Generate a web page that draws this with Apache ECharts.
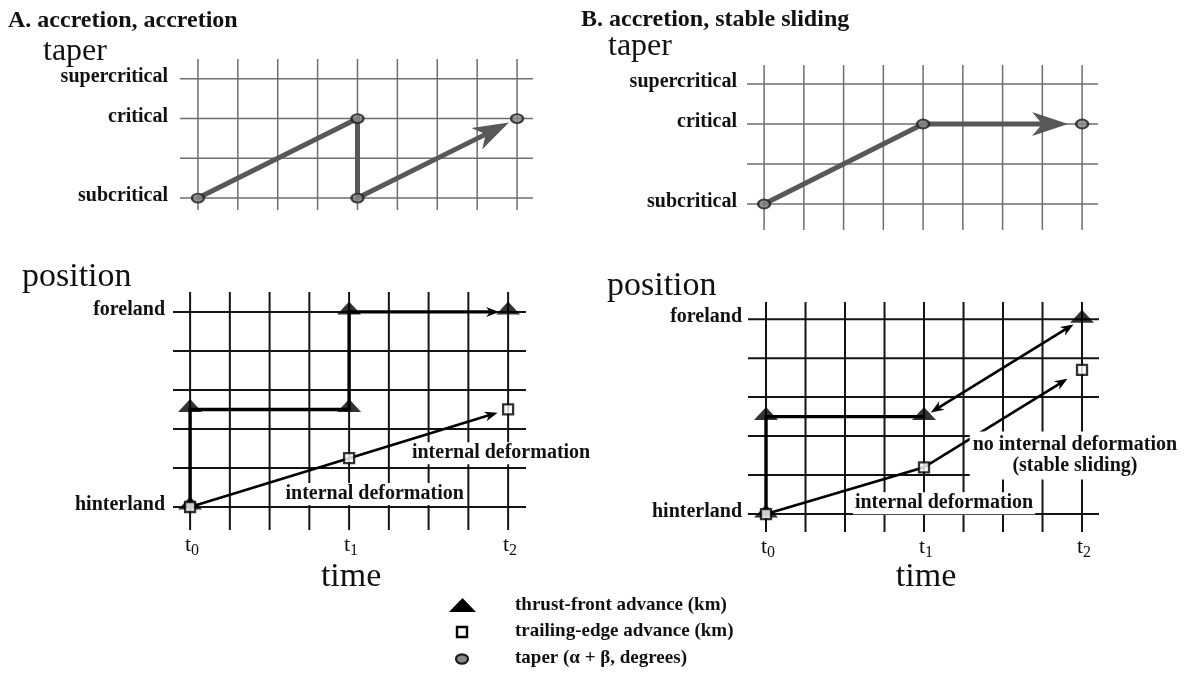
<!DOCTYPE html>
<html><head><meta charset="utf-8">
<script src="https://cdn.jsdelivr.net/npm/echarts@6/dist/echarts.min.js"></script>
<style>html,body{margin:0;padding:0;background:#fff}#c{width:1186px;height:680px}</style>
</head><body><div id="c"></div>
<script>
// ---------------- data ----------------
const panelTitles = ['A. accretion, accretion', 'B. accretion, stable sliding'];
const axisTitles = { taper: 'taper', position: 'position', time: 'time' };
const timeGridValues = [0, 1, 2, 3, 4, 5, 6, 7, 8];
const timeTickValues = [0, 4, 8];
const timeTickSubs = ['0', '1', '2'];
const taperGridValues = [0, 1, 2, 3];
const taperLabelValues = [0, 2, 3];
const taperLabels = ['subcritical', 'critical', 'supercritical'];
const positionGridValues = [0, 1, 2, 3, 4, 5];
const positionLabelValues = [0, 5];
const positionLabels = ['hinterland', 'foreland'];

// panel A (accretion, accretion)
const taperPathA = [[0, 0], [4, 2], [4, 0], [8, 2]];
const taperPointsA = [[0, 0], [4, 2], [4, 0], [8, 2]];
const thrustPathA = [[0, 0], [0, 2.5], [4, 2.5], [4, 5], [8, 5]];
const thrustPointsA = [[0, 0], [0, 2.5], [4, 2.5], [4, 5], [8, 5]];
const trailingPathA = [[0, 0], [4, 1.25], [8, 2.5]];
const trailingPointsA = [[0, 0], [4, 1.25], [8, 2.5]];

// panel B (accretion, stable sliding)
const taperPathB = [[0, 0], [4, 2], [8, 2]];
const taperPointsB = [[0, 0], [4, 2], [8, 2]];
const thrustPathB1 = [[0, 0], [0, 2.5], [4, 2.5]];
const thrustPathB2 = [[4, 2.5], [8, 5]];
const thrustPointsB = [[0, 0], [0, 2.5], [4, 2.5], [8, 5]];
const trailingPathB = [[0, 0], [4, 1.2], [8, 3.7]];
const trailingPointsB = [[0, 0], [4, 1.2], [8, 3.7]];

const annotationTexts = ['internal deformation', 'no internal deformation\n(stable sliding)'];
const legendLabels = ['thrust-front advance (km)', 'trailing-edge advance (km)', 'taper (α + β, degrees)'];

// ---------------- layout / styles ----------------
const SERIF = '"Liberation Serif", "Times New Roman", serif';
const INK = '#111';
const panels = [
  { left: 180, top: 59, width: 353, height: 151, xMin: -0.45, xMax: 8.4, yMin: -0.3, yMax: 3.5 },
  { left: 747, top: 65, width: 351, height: 165, xMin: -0.43, xMax: 8.4, yMin: -0.65, yMax: 3.475 },
  { left: 173, top: 292, width: 353, height: 238, xMin: -0.43, xMax: 8.45, yMin: -0.59, yMax: 5.51 },
  { left: 748, top: 302, width: 351, height: 230, xMin: -0.456, xMax: 8.43, yMin: -0.46, yMax: 5.44 }
];

function shorten(p, from, gap) {
  const dx = p[0] - from[0], dy = p[1] - from[1];
  const len = Math.hypot(dx, dy) || 1;
  return [p[0] - dx / len * gap, p[1] - dy / len * gap];
}
function arrowHead(tip, from, L, W, k) {
  const dx = tip[0] - from[0], dy = tip[1] - from[1];
  const len = Math.hypot(dx, dy) || 1;
  const ux = dx / len, uy = dy / len, nx = -uy, ny = ux;
  return [
    [tip[0], tip[1]],
    [tip[0] - ux * L + nx * W, tip[1] - uy * L + ny * W],
    [tip[0] - ux * L * k, tip[1] - uy * L * k],
    [tip[0] - ux * L - nx * W, tip[1] - uy * L - ny * W]
  ];
}

function gridSeries(i, xs, ys, color, width) {
  const p = panels[i];
  const data = xs.map(x => [x, p.yMin, x, p.yMax]).concat(ys.map(y => [p.xMin, y, p.xMax, y]));
  return {
    type: 'custom', xAxisIndex: i, yAxisIndex: i, data, silent: true, z: 1, clip: false,
    encode: { x: [0, 2], y: [1, 3] },
    renderItem(params, api) {
      const a = api.coord([api.value(0), api.value(1)]);
      const b = api.coord([api.value(2), api.value(3)]);
      return { type: 'line', shape: { x1: a[0], y1: a[1], x2: b[0], y2: b[1] },
        style: { stroke: color, lineWidth: width } };
    }
  };
}

function pathSeries(i, pts, st) {
  return {
    type: 'custom', xAxisIndex: i, yAxisIndex: i, data: [pts[0]], silent: true, z: st.z || 3, clip: false,
    renderItem(params, api) {
      const P = pts.map(q => api.coord(q));
      const n = P.length;
      const kids = [];
      const shaft = P.slice();
      if (st.endArrow) {
        P[n - 1] = shorten(P[n - 1], P[n - 2], st.endGap);
        shaft[n - 1] = shorten(P[n - 1], P[n - 2], st.L * st.k * 0.8);
        kids.push({ type: 'polygon', shape: { points: arrowHead(P[n - 1], P[n - 2], st.L, st.W, st.k) },
          style: { fill: st.color }, z2: 2 });
      }
      if (st.startArrow) {
        P[0] = shorten(P[0], P[1], st.startGap);
        shaft[0] = shorten(P[0], P[1], st.L * st.k * 0.8);
        kids.push({ type: 'polygon', shape: { points: arrowHead(P[0], P[1], st.L, st.W, st.k) },
          style: { fill: st.color }, z2: 2 });
      }
      kids.push({ type: 'polyline', shape: { points: shaft },
        style: { stroke: st.color, lineWidth: st.width, fill: null, lineJoin: 'miter', lineCap: st.cap || 'butt' }, z2: 1 });
      return { type: 'group', children: kids };
    }
  };
}

function markSeries(i, name, data, symbol, size, offset, style, z) {
  return { type: 'scatter', name, xAxisIndex: i, yAxisIndex: i, data, symbol, symbolSize: size,
    symbolOffset: offset, itemStyle: style, z, silent: true };
}

function textSeries(i, items) {
  return {
    type: 'custom', xAxisIndex: i, yAxisIndex: i, data: items.map(t => t.v), silent: true, z: 8, clip: false,
    renderItem(params, api) {
      const t = items[params.dataIndex];
      const c = api.coord([api.value(0), api.value(1)]);
      const style = { text: t.text, font: t.font, fill: INK,
        align: t.align || 'left', verticalAlign: 'middle',
        textAlign: t.align || 'left', textVerticalAlign: 'middle' };
      if (t.bg) { style.backgroundColor = t.bg; style.padding = t.pad || [1, 2]; }
      if (t.lh) style.lineHeight = t.lh;
      return { type: 'text', x: c[0] + (t.dx || 0), y: c[1] + (t.dy || 0), style };
    }
  };
}

const LABEL_FONT = 'bold 20px ' + SERIF;
function yLabelItems(i, values, labels, dx) {
  const p = panels[i];
  return values.map((v, k) => ({ v: [p.xMin, v], dx, dy: -2, text: labels[k], font: LABEL_FONT, align: 'right' }));
}
function timeLabelItems(i) {
  const p = panels[i];
  const items = [];
  timeTickValues.forEach((v, k) => {
    items.push({ v: [v, p.yMin], dx: 1, dy: 15, text: 't', font: '22px ' + SERIF, align: 'right' });
    items.push({ v: [v, p.yMin], dx: 1, dy: 21, text: timeTickSubs[k], font: '16px ' + SERIF, align: 'left' });
  });
  items.push({ v: [4, p.yMin], dx: 2, dy: 577 - (p.top + p.height), text: axisTitles.time, font: '34px ' + SERIF, align: 'center' });
  return items;
}

const taperStyle = { color: '#585858', width: 5, cap: 'round', L: 36, W: 12, k: 0.72, z: 3 };
const thrustStyle = { color: '#000', width: 3.4, L: 13, W: 5, k: 0.7, z: 3 };
const trailStyle = { color: '#000', width: 2.7, L: 13, W: 5, k: 0.7, z: 3 };

const triStyle = { color: '#000' };
const sqStyle = { color: '#fff', borderColor: '#000', borderWidth: 2.3 };
const circStyle = { color: '#8a8a8a', borderColor: '#1e1e1e', borderWidth: 2.2 };

const series = [
  gridSeries(0, timeGridValues, taperGridValues, '#6e6e6e', 1.5),
  gridSeries(1, timeGridValues, taperGridValues, '#6e6e6e', 1.5),
  gridSeries(2, timeGridValues, positionGridValues, '#141414', 2),
  gridSeries(3, timeGridValues, positionGridValues, '#141414', 2),

  pathSeries(0, taperPathA, Object.assign({}, taperStyle, { endArrow: true, endGap: 9 })),
  pathSeries(1, taperPathB, Object.assign({}, taperStyle, { endArrow: true, endGap: 14 })),
  pathSeries(2, thrustPathA, Object.assign({}, thrustStyle, { endArrow: true, endGap: 9 })),
  pathSeries(2, trailingPathA, Object.assign({}, trailStyle, { endArrow: true, endGap: 11 })),
  pathSeries(3, thrustPathB1, Object.assign({}, thrustStyle)),
  pathSeries(3, thrustPathB2, Object.assign({}, trailStyle, { endArrow: true, endGap: 10, startArrow: true, startGap: 8 })),
  pathSeries(3, trailingPathB, Object.assign({}, trailStyle, { endArrow: true, endGap: 17 })),

  markSeries(0, legendLabels[2], taperPointsA, 'circle', [12, 9], [0, 0], circStyle, 5),
  markSeries(1, legendLabels[2], taperPointsB, 'circle', [12, 9], [0, 0], circStyle, 5),
  markSeries(2, legendLabels[0], thrustPointsA, 'triangle', [24, 13], [0, -4], triStyle, 5),
  markSeries(3, legendLabels[0], thrustPointsB, 'triangle', [24, 13], [0, -3], triStyle, 5),
  markSeries(2, legendLabels[1], trailingPointsA, 'rect', [10, 10], [0, 0], sqStyle, 6),
  markSeries(3, legendLabels[1], trailingPointsB, 'rect', [10, 10], [0, 0], sqStyle, 6),

  textSeries(0, yLabelItems(0, taperLabelValues, taperLabels, -12)),
  textSeries(1, yLabelItems(1, taperLabelValues, taperLabels, -10)),
  textSeries(2, yLabelItems(2, positionLabelValues, positionLabels, -8).concat(timeLabelItems(2)).concat([
    { v: [2.35, 0.33], text: annotationTexts[0], font: LABEL_FONT, bg: '#fff', pad: [1, 2] },
    { v: [5.53, 1.38], text: annotationTexts[0], font: LABEL_FONT, bg: '#fff', pad: [1, 2] }
  ])),
  textSeries(3, yLabelItems(3, positionLabelValues, positionLabels, -6).concat(timeLabelItems(3)).concat([
    { v: [2.2, 0.28], text: annotationTexts[0], font: LABEL_FONT, bg: '#fff', pad: [1, 2] },
    { v: [7.82, 1.5], text: annotationTexts[1], font: LABEL_FONT, align: 'center', lh: 21, bg: '#fff', pad: [3, 3] }
  ]))
];

const legendRowsY = [606, 632, 659];
const graphic = [
  { type: 'text', x: 8, y: 21, style: { text: panelTitles[0], font: 'bold 24px ' + SERIF, fill: INK, textVerticalAlign: 'middle', verticalAlign: 'middle' } },
  { type: 'text', x: 581, y: 20, style: { text: panelTitles[1], font: 'bold 24px ' + SERIF, fill: INK, textVerticalAlign: 'middle', verticalAlign: 'middle' } },
  { type: 'text', x: 43, y: 52, style: { text: axisTitles.taper, font: '32px ' + SERIF, fill: INK, textVerticalAlign: 'middle', verticalAlign: 'middle' } },
  { type: 'text', x: 608, y: 47, style: { text: axisTitles.taper, font: '32px ' + SERIF, fill: INK, textVerticalAlign: 'middle', verticalAlign: 'middle' } },
  { type: 'text', x: 22, y: 277, style: { text: axisTitles.position, font: '34px ' + SERIF, fill: INK, textVerticalAlign: 'middle', verticalAlign: 'middle' } },
  { type: 'text', x: 607, y: 286, style: { text: axisTitles.position, font: '34px ' + SERIF, fill: INK, textVerticalAlign: 'middle', verticalAlign: 'middle' } },
  { type: 'polygon', shape: { points: [[449, legendRowsY[0] + 6], [476, legendRowsY[0] + 6], [462.5, legendRowsY[0] - 8]] }, style: { fill: '#000' } },
  { type: 'rect', shape: { x: 457, y: legendRowsY[1] - 5, width: 10, height: 10 }, style: { fill: '#fff', stroke: '#000', lineWidth: 2.4 } },
  { type: 'ellipse', shape: { cx: 462, cy: legendRowsY[2], rx: 6, ry: 4.6 }, style: { fill: '#8a8a8a', stroke: '#1e1e1e', lineWidth: 2.2 } }
].concat(legendLabels.map((t, k) => ({
  type: 'text', x: 515, y: legendRowsY[k] - 1,
  style: { text: t, font: 'bold 19px ' + SERIF, fill: INK, textVerticalAlign: 'middle', verticalAlign: 'middle' }
})));

const chart = echarts.init(document.getElementById('c'), null, { renderer: 'canvas' });
chart.setOption({
  animation: false,
  backgroundColor: '#fff',
  grid: panels.map(p => ({ left: p.left, top: p.top, width: p.width, height: p.height })),
  xAxis: panels.map((p, i) => ({ type: 'value', gridIndex: i, min: p.xMin, max: p.xMax, show: false })),
  yAxis: panels.map((p, i) => ({ type: 'value', gridIndex: i, min: p.yMin, max: p.yMax, show: false })),
  series,
  graphic
});
</script>
</body></html>
